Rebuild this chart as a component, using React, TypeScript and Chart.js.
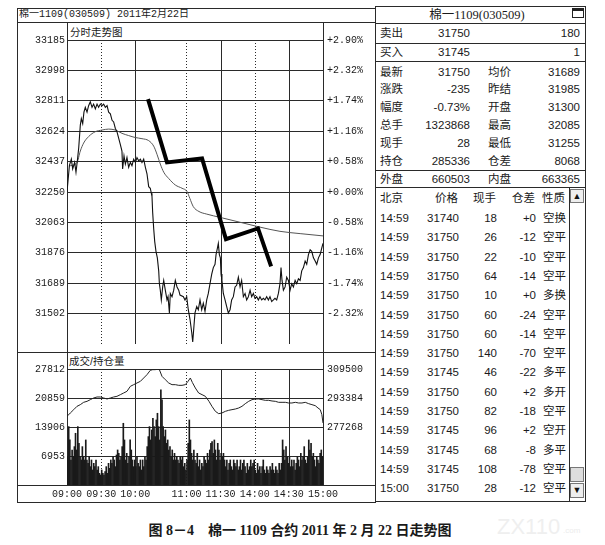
import React, { useEffect, useRef } from "react";
import { Chart, registerables } from "chart.js";
Chart.register(...registerables);

// ---------- data ----------
const priceTicks = [33185, 32998, 32811, 32624, 32437, 32250, 32063, 31876, 31689, 31502];
const pctLabels = ["+2.90%", "+2.32%", "+1.74%", "+1.16%", "+0.58%", "+0.00%", "-0.58%", "-1.16%", "-1.74%", "-2.32%"];
const volTicks = [6953, 13906, 20859, 27812];
const oiTicks = [277268, 293384, 309500];
const timeTicks = [0, 30, 60, 105, 135, 165, 195, 225];
const timeLabels = ["09:00", "09:30", "10:00", "11:00", "11:30", "14:00", "14:30", "15:00"];

const priceMin = [0, 2.1, 3.8, 5, 6.7, 7.9, 9.1, 10.3, 11.7, 12.6, 13.8, 14.9, 16.1, 17.6, 19, 20.5, 22, 23.4, 24.9, 26.4, 27.8, 29.3, 30.8, 32.2, 33.7, 35.2, 36.6, 38.1, 39.6, 41, 42.5, 43.9, 45.4, 46.9, 48.3, 48.9, 50.1, 51.3, 52.7, 54.2, 55.7, 57.1, 58.6, 60.1, 61.5, 63, 64.5, 65.9, 67.4, 68.9, 70.3, 71.8, 73.2, 74.1, 74.7, 75.3, 76.2, 77.1, 78.2, 79.4, 80.6, 81.2, 82, 82.9, 84.1, 85, 86.4, 87.9, 88.8, 90, 90.8, 92.3, 93.8, 95.2, 96.7, 98.2, 99.3, 102.3, 103.7, 105.2, 106.6, 108.1, 109.6, 110.5, 111.6, 112.5, 114, 115.4, 116.9, 118.4, 119.8, 121.3, 122.8, 124.2, 125.7, 127.2, 128.6, 130.1, 131, 132.2, 133, 133.9, 134.8, 135.4, 136.2, 137.4, 138.9, 140.3, 141.8, 143.3, 144.7, 146.2, 147.7, 149.1, 150.6, 152.1, 153.5, 155, 156.5, 157.9, 159.4, 160.9, 162.3, 163.8, 165.2, 166.7, 168.2, 169.6, 171.1, 172.6, 174, 175.5, 177, 178.4, 179.9, 181.4, 182.8, 184.3, 185.8, 187.2, 188.1, 189, 190.2, 191.7, 193.1, 194.6, 196.1, 197.5, 199, 200.5, 201.9, 203.4, 204.9, 206.3, 207.8, 209.3, 210.7, 212.2, 213.7, 215.1, 216.6, 218.1, 219.5, 221, 222.5, 223.9, 225];
const priceVal = [32250, 32412, 32452, 32392, 32432, 32372, 32442, 32522, 32661, 32701, 32671, 32741, 32771, 32741, 32781, 32805, 32771, 32791, 32761, 32791, 32771, 32791, 32781, 32791, 32771, 32781, 32741, 32731, 32691, 32681, 32641, 32621, 32581, 32542, 32502, 32392, 32472, 32422, 32462, 32402, 32432, 32412, 32452, 32432, 32462, 32442, 32452, 32432, 32452, 32402, 32362, 32283, 32273, 32243, 32223, 32124, 32024, 31945, 31885, 31845, 31765, 31686, 31646, 31586, 31666, 31706, 31646, 31586, 31606, 31506, 31626, 31606, 31646, 31706, 31666, 31646, 31616, 31606, 31586, 31606, 31526, 31467, 31387, 31327, 31427, 31506, 31546, 31526, 31586, 31526, 31566, 31516, 31586, 31626, 31686, 31745, 31785, 31805, 31865, 31905, 31934, 31865, 31845, 31745, 31706, 31626, 31586, 31546, 31506, 31526, 31586, 31606, 31666, 31676, 31726, 31666, 31706, 31606, 31626, 31586, 31606, 31646, 31606, 31626, 31596, 31606, 31586, 31606, 31586, 31596, 31586, 31606, 31586, 31606, 31576, 31586, 31596, 31586, 31626, 31686, 31785, 31706, 31646, 31666, 31726, 31706, 31646, 31686, 31666, 31706, 31686, 31716, 31706, 31765, 31785, 31825, 31805, 31865, 31895, 31885, 31845, 31825, 31805, 31845, 31865, 31905, 31934];

const avgMin = [2, 8.8, 11.7, 14.6, 19, 24.9, 30.8, 36.6, 42.5, 48.3, 54.2, 60.1, 65.9, 71.8, 76.2, 79.1, 82, 85, 89.4, 95.2, 101.1, 105.5, 108, 111, 116, 122.8, 134.5, 152, 169.6, 187.2, 204.9, 225];
const avgVal = [32410, 32432, 32502, 32551, 32591, 32621, 32631, 32637, 32631, 32611, 32597, 32585, 32578, 32566, 32532, 32482, 32422, 32372, 32333, 32293, 32273, 32253, 32210, 32160, 32130, 32114, 32094, 32064, 32034, 32008, 31994, 31980];

const thickMin = [71.2, 87.9, 118.7, 139.7, 167.9, 179.4];
const thickVal = [32821, 32432, 32456, 31960, 32026, 31793];

const volume = [
  6800, 14000, 10800, 6000, 8400, 6800, 9200, 12400, 8400, 14000,
  10000, 6800, 6000, 9200, 6800, 6000, 10800, 6000, 5200, 6800,
  4400, 6000, 3600, 5200, 4400, 6000, 3600, 4400, 2800, 2400,
  3600, 2800, 2400, 3200, 4400, 2800, 5200, 4000, 6000, 5200,
  6800, 6000, 4400, 7200, 8400, 7600, 6000, 6800, 9200, 14800,
  10800, 6000, 7600, 5200, 6800, 10800, 8400, 6000, 4400, 6000,
  4400, 6800, 5200, 4400, 6000, 3600, 6000, 4400, 6800, 6000,
  9200, 11600, 14000, 10800, 13200, 16000, 14000, 11600, 15600, 17200,
  14000, 10800, 22800, 20400, 14000, 11600, 13200, 10000, 10800, 8400,
  9200, 6800, 8400, 6000, 7600, 6000, 6800, 6000, 5200, 6800,
  6000, 6800, 4400, 5200, 3600, 6000, 10000, 15600, 10800, 7600,
  6000, 8400, 6000, 5200, 7600, 4400, 6000, 3600, 5200, 4400,
  6800, 6000, 5200, 7600, 6000, 8400, 10000, 10400, 7600, 10800,
  8400, 6000, 10000, 8400, 6000, 7600, 6800, 7600, 6000, 4400,
  6000, 3600, 5200, 6000, 4400, 3600, 6000, 5200, 4400, 6000,
  3600, 4400, 6000, 3600, 5200, 6000, 4400, 2800, 5200, 3600,
  4400, 6000, 4400, 5200, 6000, 3600, 2800, 5200, 3600, 4400,
  2800, 4400, 6000, 3600, 2800, 4400, 3600, 2800, 4400, 3600,
  5200, 3600, 2800, 4400, 3600, 2800, 5200, 3600, 5200, 10800,
  8400, 6000, 9200, 6800, 5200, 6800, 4400, 6000, 4400, 6000,
  3600, 5200, 6800, 6000, 4400, 7600, 6000, 6800, 9200, 6000,
  5200, 6800, 10800, 8400, 10000, 6800, 7600, 6000, 4400, 6800,
  6000, 5200, 7600, 8400, 6800,
];

const oiMin = [0, 2.9, 5.9, 8.8, 11.7, 14.6, 17.6, 20.5, 23.4, 26.4, 29.3, 32.2, 35.2, 38.1, 41, 43.9, 46.9, 49.8, 52.7, 55.7, 58.6, 61.5, 64.5, 67.4, 70.3, 73.2, 75.3, 77.6, 79.1, 81.2, 83.5, 86.4, 89.4, 92.3, 95.2, 98.2, 101.1, 104, 106.4, 108.4, 110.2, 112.8, 115.7, 118.7, 121.6, 124.8, 127.4, 130.4, 133.3, 136.2, 139.2, 142.1, 145, 148, 150.9, 153.8, 156.7, 159.7, 162.6, 165.5, 168.5, 171.4, 174.3, 177.2, 180.2, 183.1, 186, 189, 191.9, 194.8, 197.7, 200.7, 203.6, 206.5, 209.4, 212.4, 215.3, 218.2, 220.6, 222.6, 224, 225];
const oiVal = [283202, 285054, 286906, 288758, 289684, 290980, 291536, 292462, 293388, 293943, 293943, 293388, 292832, 293388, 293943, 294314, 295240, 296166, 297092, 299870, 300796, 301722, 302648, 304500, 306352, 308759, 309130, 309130, 309500, 309130, 305426, 303574, 301722, 300796, 300796, 300426, 300426, 300796, 302648, 304500, 302000, 298944, 296166, 295240, 294314, 291536, 288758, 285980, 284683, 285054, 285980, 286536, 286906, 287276, 287832, 288758, 290239, 291536, 292462, 292832, 292832, 292462, 292091, 292091, 291721, 291536, 290980, 290980, 290980, 290610, 290610, 290980, 290610, 290610, 290980, 290239, 289684, 289128, 287832, 286906, 284128, 279498];

// side panel texts
const panelTitle = "棉一1109(030509)";
const sellRow = ["卖出", "31750", "180"];
const buyRow = ["买入", "31745", "1"];
const statRows = [
  ["最新", "31750", "均价", "31689"],
  ["涨跌", "-235", "昨结", "31985"],
  ["幅度", "-0.73%", "开盘", "31300"],
  ["总手", "1323868", "最高", "32085"],
  ["现手", "28", "最低", "31255"],
  ["持仓", "285336", "仓差", "8068"],
];
const outInRow = ["外盘", "660503", "内盘", "663365"];
const tickHeader = ["北京", "价格", "现手", "仓差", "性质"];
const tickRows = [
  ["14:59", "31740", "18", "+0", "空换"],
  ["14:59", "31750", "26", "-12", "空平"],
  ["14:59", "31750", "22", "-10", "空平"],
  ["14:59", "31750", "64", "-14", "空平"],
  ["14:59", "31750", "10", "+0", "多换"],
  ["14:59", "31750", "60", "-24", "空平"],
  ["14:59", "31750", "60", "-14", "空平"],
  ["14:59", "31750", "140", "-70", "空平"],
  ["14:59", "31745", "46", "-22", "多平"],
  ["14:59", "31750", "60", "+2", "多开"],
  ["14:59", "31750", "82", "-18", "空平"],
  ["14:59", "31745", "96", "+2", "空开"],
  ["14:59", "31745", "68", "-8", "多平"],
  ["14:59", "31745", "108", "-78", "空平"],
  ["15:00", "31750", "28", "-12", "空平"],
];
const chartTitle = "棉一1109(030509) 2011年2月22日";
const caption = "图 8－4    棉一 1109 合约 2011 年 2 月 22 日走势图";

// ---------- layout helpers ----------
const W = 605;
const SANS = '"Liberation Sans", "Noto Sans CJK SC", sans-serif';
const MONO = '"Liberation Mono", "Noto Sans CJK SC", monospace';
const INK = "#1a1a1a";
const LINE = "#2a2a2a";

type TP = { x: number; y: number; text: string; align?: "left" | "right" | "center"; size?: number; family?: string; weight?: any; color?: string };
const T = ({ x, y, text, align = "left", size = 11.5, family = SANS, weight = "normal", color = INK }: TP) => {
  const st: any = { position: "absolute", top: y - 8, height: 16, lineHeight: "16px", fontSize: size, fontFamily: family, fontWeight: weight, whiteSpace: "pre", color };
  if (align === "left") st.left = x;
  else if (align === "right") st.right = W - x;
  else { st.left = x - 200; st.width = 400; st.textAlign = "center"; }
  return <div style={st}>{text}</div>;
};
const R = (x: number, y: number, w: number, h: number, key: string, bg = LINE) => (
  <div key={key} style={{ position: "absolute", left: x, top: y, width: w, height: h, background: bg }} />
);

const monoFont = { family: "Liberation Mono", size: 10 };
const plain = (v: any) => String(v);

const vGridPlugin = {
  id: "vgrid",
  beforeDatasetsDraw(chart: any) {
    const { ctx, chartArea, scales } = chart;
    const xs = scales.x;
    ctx.save();
    ctx.strokeStyle = LINE;
    ctx.lineWidth = 1;
    timeTicks.forEach((t, i) => {
      const px = Math.round(xs.getPixelForValue(t)) + 0.5;
      ctx.setLineDash(i === 1 || i === 3 || i === 5 ? [1, 2] : []);
      ctx.beginPath();
      ctx.moveTo(px, chartArea.top);
      ctx.lineTo(px, chartArea.bottom);
      ctx.stroke();
    });
    ctx.restore();
  },
};

export default function App() {
  const priceRef = useRef<HTMLCanvasElement>(null);
  const volRef = useRef<HTMLCanvasElement>(null);

  useEffect(() => {
    const pc = new Chart(priceRef.current!, {
      type: "line",
      data: {
        datasets: [
          { data: thickMin.map((m, i) => ({ x: m, y: thickVal[i] })), borderColor: "#000", borderWidth: 4, pointRadius: 0, order: 0 } as any,
          { data: priceMin.map((m, i) => ({ x: m, y: priceVal[i] })), borderColor: "#111", borderWidth: 1.1, pointRadius: 0, tension: 0, order: 1 },
          { data: avgMin.map((m, i) => ({ x: m, y: avgVal[i] })), borderColor: "#555", borderWidth: 1, pointRadius: 0, cubicInterpolationMode: "monotone", order: 2 } as any,
        ],
      },
      options: {
        animation: false,
        responsive: false,
        events: [],
        layout: { padding: { top: 16, bottom: 2, left: 0, right: 0 } },
        plugins: { legend: { display: false }, tooltip: { enabled: false } },
        scales: {
          x: { type: "linear", min: 0, max: 225, display: false },
          y: {
            position: "left", min: 31315, max: 33185,
            afterBuildTicks: (s: any) => { s.ticks = priceTicks.map((v) => ({ value: v })); },
            afterFit: (s: any) => { s.width = 50; },
            grid: { color: LINE, lineWidth: 1, drawTicks: false },
            border: { display: false },
            ticks: { padding: 2, font: monoFont, color: INK, autoSkip: false, callback: plain },
          },
          y2: {
            position: "right", min: 31315, max: 33185,
            afterBuildTicks: (s: any) => { s.ticks = priceTicks.map((v) => ({ value: v })); },
            afterFit: (s: any) => { s.width = 52; },
            grid: { display: false, drawTicks: false },
            border: { display: false },
            ticks: { padding: 4, font: monoFont, color: INK, autoSkip: false, callback: (v: any) => pctLabels[priceTicks.indexOf(v)] },
          },
        },
      } as any,
      plugins: [vGridPlugin],
    });

    const vc = new Chart(volRef.current!, {
      type: "bar",
      data: {
        datasets: [
          { type: "line", data: oiMin.map((m, i) => ({ x: m, y: oiVal[i] })), yAxisID: "yOI", borderColor: "#222", borderWidth: 1, pointRadius: 0, order: 0 } as any,
          { type: "bar", data: volume.map((v, i) => ({ x: i + 0.5, y: v })), yAxisID: "y", backgroundColor: "#1a1a1a", barThickness: 1, order: 1 },
        ],
      },
      options: {
        animation: false,
        responsive: false,
        events: [],
        layout: { padding: { top: 17, bottom: 0, left: 0, right: 0 } },
        plugins: { legend: { display: false }, tooltip: { enabled: false } },
        scales: {
          x: {
            type: "linear", min: 0, max: 225, offset: false,
            afterBuildTicks: (s: any) => { s.ticks = timeTicks.map((v) => ({ value: v })); },
            afterFit: (s: any) => { s.height = 17; },
            grid: { display: false, drawTicks: false, offset: false },
            border: { display: false },
            ticks: { padding: 3, font: monoFont, color: INK, maxRotation: 0, autoSkip: false, callback: (v: any) => timeLabels[timeTicks.indexOf(v)] },
          },
          y: {
            position: "left", min: 0, max: 27812,
            afterBuildTicks: (s: any) => { s.ticks = volTicks.map((v) => ({ value: v })); },
            afterFit: (s: any) => { s.width = 50; },
            grid: { color: LINE, lineWidth: 1, drawTicks: false },
            border: { display: false },
            ticks: { padding: 2, font: monoFont, color: INK, autoSkip: false, callback: plain },
          },
          yOI: {
            position: "right", min: 245036, max: 309500,
            afterBuildTicks: (s: any) => { s.ticks = oiTicks.map((v) => ({ value: v })); },
            afterFit: (s: any) => { s.width = 52; },
            grid: { display: false, drawTicks: false },
            border: { display: false },
            ticks: { padding: 4, font: monoFont, color: INK, autoSkip: false, callback: plain },
          },
        },
      } as any,
      plugins: [vGridPlugin],
    });

    return () => { pc.destroy(); vc.destroy(); };
  }, []);

  const lines: any[] = [];
  // left panel frame
  lines.push(<div key="lbox" style={{ position: "absolute", left: 17, top: 8, width: 359, height: 495, boxSizing: "border-box", border: `1px solid ${LINE}` }} />);
  lines.push(R(17, 22, 358, 1, "h22"));
  lines.push(R(17, 352, 358, 1, "h352"));
  lines.push(R(17, 485, 358, 1, "h485"));
  lines.push(R(67, 22, 1, 463, "v67"));
  lines.push(R(323, 22, 1, 463, "v323"));
  // right panel frame
  lines.push(<div key="rbox" style={{ position: "absolute", left: 375, top: 6, width: 211, height: 496, boxSizing: "border-box", border: `1px solid ${LINE}` }} />);
  [23, 43, 61, 170, 187].forEach((y) => lines.push(R(375, y, 211, 1, "rh" + y)));
  // scroll bar
  lines.push(R(569, 187, 1, 314, "sb"));
  lines.push(<div key="up" style={{ position: "absolute", left: 570, top: 189, width: 14, height: 14, boxSizing: "border-box", border: "1px solid #777", background: "#eee", fontSize: 9, lineHeight: "12px", textAlign: "center", color: "#111", fontFamily: SANS }}>▲</div>);
  lines.push(<div key="thumb" style={{ position: "absolute", left: 570, top: 467, width: 14, height: 15, boxSizing: "border-box", border: "1px solid #777", background: "#ddd" }} />);
  lines.push(<div key="dn" style={{ position: "absolute", left: 570, top: 483, width: 14, height: 15, boxSizing: "border-box", border: "1px solid #777", background: "#eee", fontSize: 9, lineHeight: "13px", textAlign: "center", color: "#111", fontFamily: SANS }}>▼</div>);
  // window icon
  lines.push(<div key="icon" style={{ position: "absolute", left: 572, top: 8, width: 12, height: 10, boxSizing: "border-box", border: "1px solid #222", borderTop: "3px solid #222" }} />);

  const statYs = [72, 89, 107, 125, 143, 161];

  return (
    <div style={{ position: "absolute", left: 0, top: 0, width: 605, height: 545, background: "#fff", overflow: "hidden" }}>
      {lines}
      <T x={19} y={15} text={chartTitle} size={10} family={MONO} />
      <T x={70} y={32} text="分时走势图" size={10.5} family={SANS} />
      <T x={69} y={361} text="成交/持仓量" size={10.5} family={SANS} />
      <canvas ref={priceRef} width={358} height={330} style={{ position: "absolute", left: 17, top: 24, width: 358, height: 330 }} />
      <canvas ref={volRef} width={358} height={150} style={{ position: "absolute", left: 17, top: 352, width: 358, height: 150 }} />

      <T x={477} y={15} text={panelTitle} align="center" size={12.5} family={'"Liberation Serif", "Noto Sans CJK SC", serif'} />
      <T x={380} y={33} text={sellRow[0]} />
      <T x={470} y={33} text={sellRow[1]} align="right" />
      <T x={580} y={33} text={sellRow[2]} align="right" />
      <T x={380} y={52} text={buyRow[0]} />
      <T x={470} y={52} text={buyRow[1]} align="right" />
      <T x={580} y={52} text={buyRow[2]} align="right" />
      {statRows.map((r, i) => (
        <React.Fragment key={"s" + i}>
          <T x={380} y={statYs[i]} text={r[0]} />
          <T x={470} y={statYs[i]} text={r[1]} align="right" />
          <T x={488} y={statYs[i]} text={r[2]} />
          <T x={580} y={statYs[i]} text={r[3]} align="right" />
        </React.Fragment>
      ))}
      <T x={380} y={179} text={outInRow[0]} />
      <T x={470} y={179} text={outInRow[1]} align="right" />
      <T x={488} y={179} text={outInRow[2]} />
      <T x={580} y={179} text={outInRow[3]} align="right" />
      <T x={380} y={198} text={tickHeader[0]} />
      <T x={458} y={198} text={tickHeader[1]} align="right" />
      <T x={496} y={198} text={tickHeader[2]} align="right" />
      <T x={535} y={198} text={tickHeader[3]} align="right" />
      <T x={542} y={198} text={tickHeader[4]} />
      {tickRows.map((r, i) => {
        const y = 218 + i * 19.3;
        return (
          <React.Fragment key={"t" + i}>
            <T x={380} y={y} text={r[0]} />
            <T x={459} y={y} text={r[1]} align="right" />
            <T x={497} y={y} text={r[2]} align="right" />
            <T x={536} y={y} text={r[3]} align="right" />
            <T x={543} y={y} text={r[4]} />
          </React.Fragment>
        );
      })}

      <T x={300} y={531} text={caption} align="center" size={14} weight="bold" family={'"Liberation Serif", "Noto Sans CJK SC", serif'} />
      <T x={497} y={527} text="ZX110" size={22} family={SANS} color="#efefef" />
      <T x={563} y={531} text=".com" size={8} family={SANS} color="#ececec" />
    </div>
  );
}
